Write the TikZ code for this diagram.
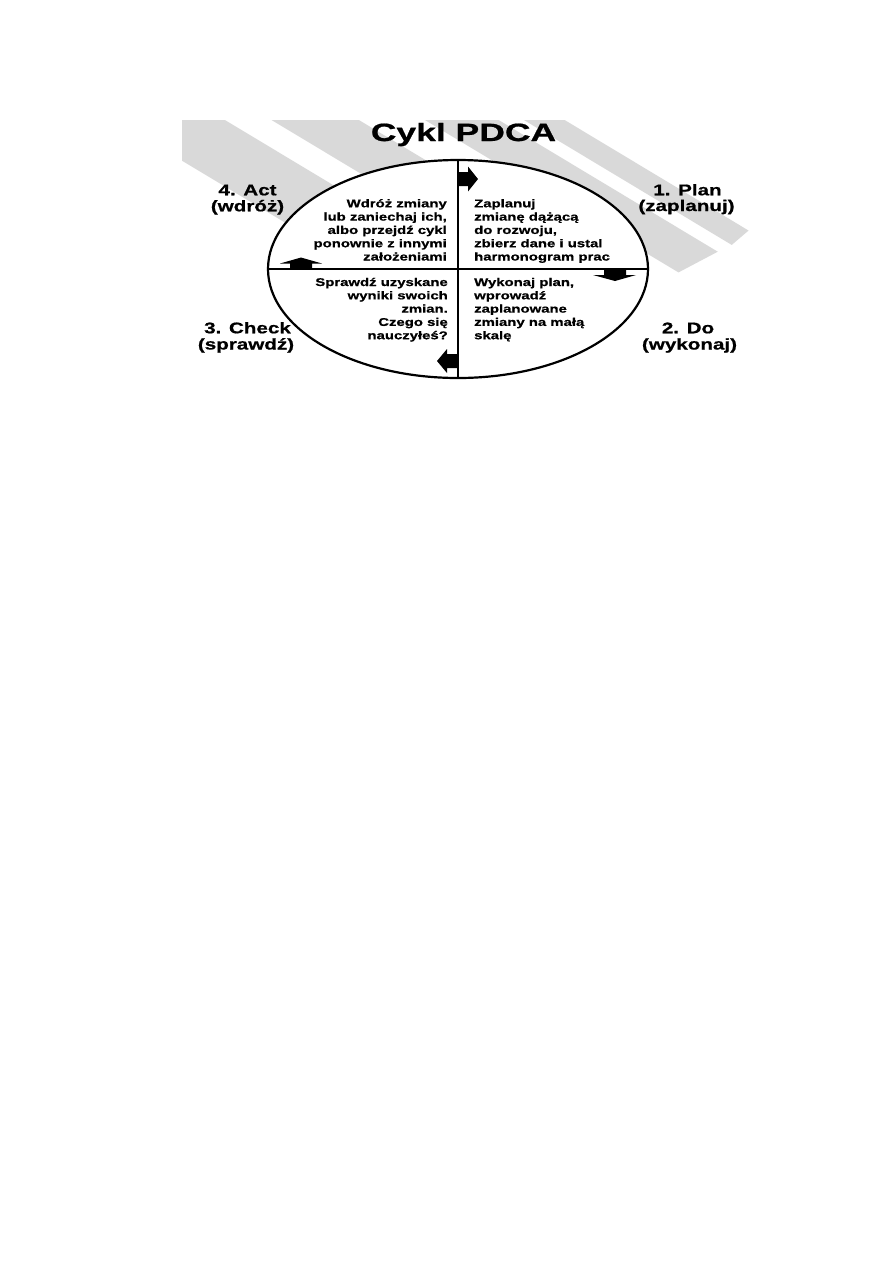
\documentclass[tikz,border=0pt]{standalone}
\usepackage{fontspec}
\newfontfamily\pdcafont[FakeStretch=1.33, FakeBold=0.8]{Liberation Sans}
\newfontfamily\pdcatitlefont[FakeStretch=1.42, FakeBold=0.8]{Liberation Sans}
\usetikzlibrary{shapes.geometric}
\definecolor{bandgray}{HTML}{D9D9D9}
\tikzset{
  band/.style={fill=bandgray, draw=none},
  ring/.style={ellipse, draw=black, line width=2.2bp, fill=white, minimum width=380bp, minimum height=218bp, inner sep=0pt, outer sep=0pt},
  axis/.style={line width=2bp},
  turn/.style={fill=black, draw=none},
  quadtext/.style={font=\pdcafont\bfseries\fontsize{11.2bp}{13bp}\selectfont, inner sep=0pt},
  phase/.style={font=\pdcafont\bfseries\fontsize{15.5bp}{16bp}\selectfont, inner sep=0pt, anchor=base},
  heading/.style={font=\pdcatitlefont\bfseries\fontsize{25bp}{27bp}\selectfont, inner sep=0pt, anchor=base}
}
% Pas tla: od przesuniecia #1 do #2, koniec gorny #3, dolny #4
\newcommand{\pdcaband}[4]{
  \fill[band] ({150*0.857-(#1)*0.515}, {150*0.515+(#1)*0.857})
    -- ({#3*0.857-(#1)*0.515}, {#3*0.515+(#1)*0.857})
    -- ({#4*0.857-(#2)*0.515}, {#4*0.515+(#2)*0.857})
    -- ({150*0.857-(#2)*0.515}, {150*0.515+(#2)*0.857}) -- cycle;
}
\begin{document}
\begin{tikzpicture}[x=1bp, y=-1bp]
  \useasboundingbox (0,0) rectangle (893,1263);

  % 1. Pasy w tle
  \begin{scope}
    \clip (182,120) rectangle (760,400);
    \pdcaband{-13}{44}{531}{531}
    \pdcaband{-82}{-37}{531}{531}
    \pdcaband{-154}{-116}{745}{722}
    \pdcaband{-188}{-167}{760.5}{753.5}
  \end{scope}

  % 2. Tytul
  \node[heading] (title) at (463.5,141) {Cykl PDCA};

  % 3. Elipsa i osie
  \node[ring] (cycle) at (458,269) {};
  \draw[axis] (cycle.north) -- (cycle.south);
  \draw[axis] (cycle.west) -- (cycle.east);

  % 4. Strzalki obiegu
  \fill[turn] (458,172) -- (468,172) -- (468,166.5) -- (478,179) -- (468,191.5) -- (468,186) -- (458,186) -- cycle;
  \fill[turn] (604,269) -- (604,275) -- (593,275) -- (615,281) -- (636,275) -- (626,275) -- (626,269) -- cycle;
  \fill[turn] (458,354) -- (447,354) -- (447,349) -- (437,361) -- (447,373) -- (447,368) -- (458,368) -- cycle;
  \fill[turn] (290,269) -- (290,263.5) -- (280,263.5) -- (301,257.5) -- (322,263.5) -- (312,263.5) -- (312,269) -- cycle;

  % 5. Teksty cwiartek
  \foreach \k/\txt in {0/Wdróż zmiany, {1/lub zaniechaj ich,}, 2/albo przejdź cykl, 3/ponownie z innymi, 4/założeniami} {
    \node[quadtext, anchor=base east] (act-\k) at (447, {207.3+13.3*\k}) {\txt};
  }
  \foreach \k/\txt in {0/Zaplanuj, 1/zmianę dążącą, {2/do rozwoju,}, 3/zbierz dane i ustal, 4/harmonogram prac} {
    \node[quadtext, anchor=base west] (plan-\k) at (474, {207.3+13.3*\k}) {\txt};
  }
  \foreach \k/\txt in {0/Sprawdź uzyskane, 1/wyniki swoich, 2/zmian., 3/Czego się, 4/nauczyłeś?} {
    \node[quadtext, anchor=base east] (check-\k) at (448, {286+13.3*\k}) {\txt};
  }
  \foreach \k/\txt in {{0/Wykonaj plan,}, 1/wprowadź, 2/zaplanowane, 3/zmiany na małą, 4/skalę} {
    \node[quadtext, anchor=base west] (do-\k) at (474, {286+13.3*\k}) {\txt};
  }

  % 6. Etapy
  \node[phase] (act-a) at (247.5,195.3) {4. Act};
  \node[phase] (act-b) at (247.5,211.3) {(wdróż)};
  \node[phase] (plan-a) at (687.5,195.3) {1. Plan};
  \node[phase] (plan-b) at (686.5,211) {(zaplanuj)};
  \node[phase] (check-a) at (247.5,333.3) {3. Check};
  \node[phase] (check-b) at (246,349.5) {(sprawdź)};
  \node[phase] (do-a) at (688,333.3) {2. Do};
  \node[phase] (do-b) at (689.5,349.5) {(wykonaj)};
\end{tikzpicture}
\end{document}
